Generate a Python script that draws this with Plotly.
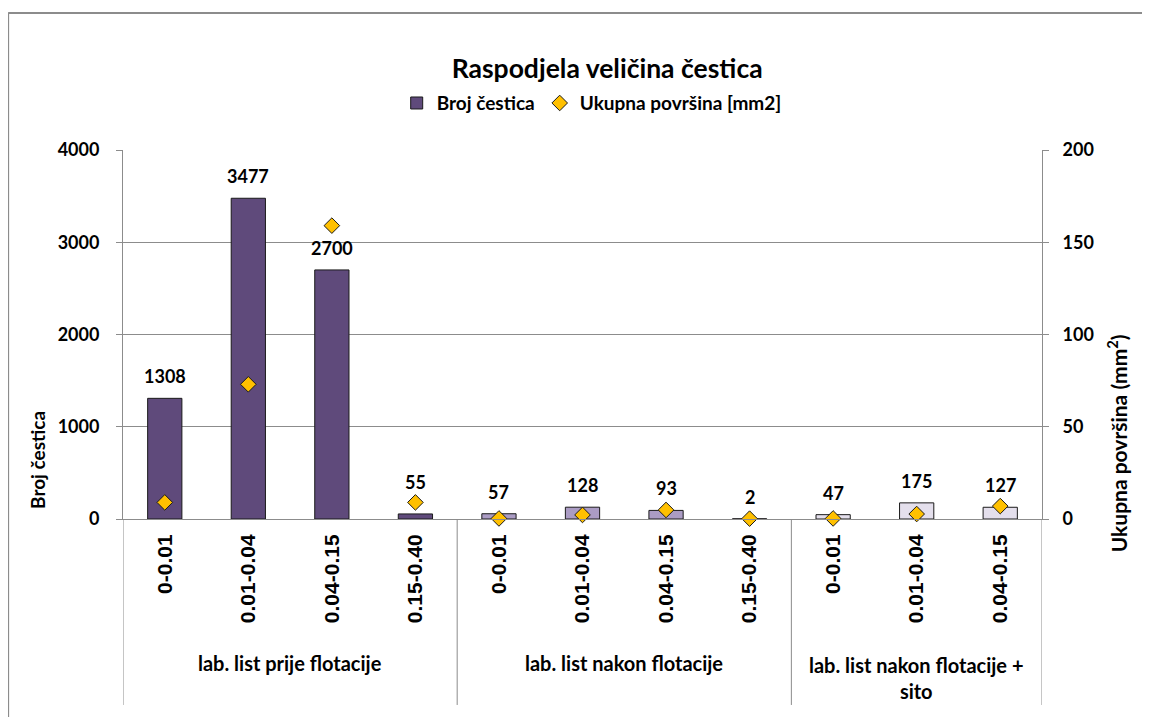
import plotly.graph_objects as go

# data
groups = ["lab. list prije flotacije", "lab. list nakon flotacije", "lab. list nakon flotacije +<br>sito"]
group_sizes = [4, 4, 3]
ranges = ["0-0.01", "0.01-0.04", "0.04-0.15", "0.15-0.40",
          "0-0.01", "0.01-0.04", "0.04-0.15", "0.15-0.40",
          "0-0.01", "0.01-0.04", "0.04-0.15"]
broj_cestica = [1308, 3477, 2700, 55, 57, 128, 93, 2, 47, 175, 127]
povrsina = [9, 73, 159, 9, 0.3, 2.2, 4.9, 0.2, 0.3, 2.7, 7]
left_ticks = [0, 1000, 2000, 3000, 4000]
right_ticks = [0, 50, 100, 150, 200]

group_colors = ["#5F4A7B", "#AB9CC4", "#E4DFEC"]
FONT = "Lato"
GRID = "#8C8C8C"

x = list(range(len(ranges)))
bar_colors = []
for gc, n in zip(group_colors, group_sizes):
    bar_colors += [gc] * n

fig = go.Figure()
fig.add_trace(go.Bar(
    x=x, y=broj_cestica, name="Broj čestica",
    marker=dict(color=bar_colors, line=dict(color="#1a1a1a", width=1)),
    width=0.41,
))
fig.add_trace(go.Scatter(
    x=x, y=povrsina, name="Ukupna površina [mm2]", yaxis="y2", mode="markers",
    marker=dict(symbol="diamond", size=12, color="#FFC000", line=dict(color="#1a1a1a", width=1)),
    cliponaxis=False,
))

annotations = []
for xi, v in zip(x, broj_cestica):
    shift = 19 if xi == 3 else 9  # the "55" label sits higher in the original
    annotations.append(dict(x=xi, y=v, xref="x", yref="y", text=str(v), showarrow=False,
                            yanchor="bottom", yshift=shift,
                            font=dict(family=FONT, size=18, color="#000", weight="bold")))

# group labels and separators
shapes = []
start = 0
for g, n in zip(groups, group_sizes):
    center = start + (n - 1) / 2
    annotations.append(dict(x=center, y=-0.39 if "<br>" not in g else -0.43, xref="x", yref="paper",
                            text=g, showarrow=False, yanchor="middle",
                            font=dict(family=FONT, size=20, color="#000", weight="bold")))
    start += n
bounds = [-0.5]
acc = -0.5
for n in group_sizes:
    acc += n
    bounds.append(acc)
for b in bounds:
    shapes.append(dict(type="line", xref="x", yref="paper", x0=b, x1=b, y0=0, y1=-0.504,
                       line=dict(color=GRID, width=1)))

# outer chart border (top and left edges visible)
shapes.append(dict(type="line", xref="paper", yref="paper", x0=-0.125, x1=1.2, y0=1.371, y1=1.371,
                   line=dict(color="#8C8C8C", width=2)))
shapes.append(dict(type="line", xref="paper", yref="paper", x0=-0.125, x1=-0.125, y0=1.371, y1=-0.6,
                   line=dict(color="#8C8C8C", width=2)))

annotations.append(dict(x=-0.0925, y=0.16, xref="paper", yref="paper", text="Broj čestica",
                        textangle=-90, showarrow=False, xanchor="center", yanchor="middle",
                        font=dict(family=FONT, size=19, color="#000", weight="bold")))
annotations.append(dict(x=1.082, y=0.206, xref="paper", yref="paper",
                        text="Ukupna površina (mm<sup>2</sup>)", textangle=-90, showarrow=False,
                        xanchor="center", yanchor="middle",
                        font=dict(family=FONT, size=21, color="#000", weight="bold")))

fig.update_layout(
    width=1150, height=717,
    margin=dict(l=115, r=116, t=142, b=206),
    paper_bgcolor="white", plot_bgcolor="white",
    title=dict(text="Raspodjela veličina čestica", x=0.521, xanchor="center", y=0.916, yanchor="middle",
               font=dict(family=FONT, size=26.5, color="#000", weight="bold")),
    legend=dict(orientation="h", x=0.51, xanchor="center", y=1.127, yanchor="middle",
                font=dict(family=FONT, size=19, color="#000", weight="bold"), itemwidth=30),
    showlegend=True,
    xaxis=dict(
        range=[-0.5, len(ranges) - 0.5], tickmode="array", tickvals=x,
        ticktext=[f"<b>{r}</b>" for r in ranges],
        tickangle=-90,
        tickfont=dict(family="Liberation Sans", size=21, color="#000"),
        showline=True, linecolor=GRID, linewidth=1, showgrid=False, ticks="", zeroline=False,
        ticklabelstandoff=6,
    ),
    yaxis=dict(
        range=[0, 4000], tickmode="array", tickvals=left_ticks,
        ticktext=[f"<b>{t}</b>" for t in left_ticks],
        showgrid=True, gridcolor=GRID, gridwidth=1,
        showline=True, linecolor=GRID, linewidth=1, ticks="outside", ticklen=6, tickcolor=GRID,
        tickfont=dict(family=FONT, size=18, color="#000"), zeroline=False,
        ticklabelstandoff=13,
    ),
    yaxis2=dict(
        range=[0, 200], tickmode="array", tickvals=right_ticks,
        ticktext=[f"<b>{t}</b>" for t in right_ticks],
        overlaying="y", side="right", showgrid=False,
        showline=True, linecolor=GRID, linewidth=1, ticks="outside", ticklen=6, tickcolor=GRID,
        tickfont=dict(family=FONT, size=18, color="#000"), zeroline=False,
        ticklabelstandoff=10,
    ),
    annotations=annotations,
    shapes=shapes,
)

fig.write_html("out.html")
